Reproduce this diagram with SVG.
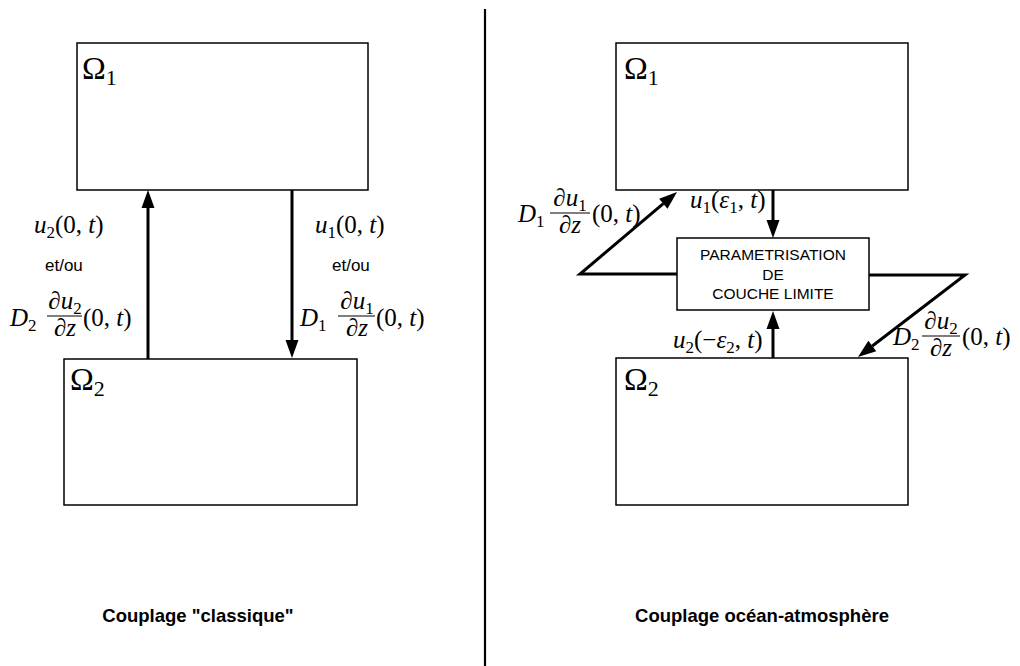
<svg xmlns="http://www.w3.org/2000/svg" width="1020" height="666" viewBox="0 0 1020 666">
<style>
.box{fill:#fff;stroke:#000;stroke-width:1.5}
.ln{fill:none;stroke:#000;stroke-width:3}
.bar{stroke:#000;stroke-width:1.2}
.m{font-family:"Liberation Serif","DejaVu Serif",serif;font-size:25px;fill:#000}
.i{font-style:italic}
.s{font-size:17px}
.om{font-family:"Liberation Serif","DejaVu Serif",serif;font-size:32px;fill:#000}
.oms{font-size:22px}
.t{font-family:"Liberation Sans",Arial,sans-serif;font-size:17px;fill:#000}
.p{font-family:"Liberation Sans",Arial,sans-serif;font-size:15.5px;fill:#000;text-anchor:middle}
.cap{font-family:"Liberation Sans",Arial,sans-serif;font-size:18.5px;font-weight:bold;fill:#000;text-anchor:middle}
.c{text-anchor:middle}
</style>
<defs>
<marker id="ah" markerUnits="userSpaceOnUse" markerWidth="18" markerHeight="13" refX="0" refY="6.5" orient="auto" overflow="visible">
<path d="M0,0 L18,6.5 L0,13 z" fill="#000"/>
</marker>
</defs>
<rect width="1020" height="666" fill="#fff"/>
<line x1="485" y1="9" x2="485" y2="666" stroke="#000" stroke-width="2.2"/>

<g id="left-omega1"><rect class="box" x="77" y="43" width="291" height="147"/><text class="om" x="82" y="79">Ω<tspan class="oms" dy="6">1</tspan></text></g>
<g id="left-omega2"><rect class="box" x="64" y="359" width="293" height="146"/><text class="om" x="70" y="390">Ω<tspan class="oms" dy="6">2</tspan></text></g>
<g id="right-omega1"><rect class="box" x="616" y="43" width="292" height="147"/><text class="om" x="624" y="79">Ω<tspan class="oms" dy="6">1</tspan></text></g>
<g id="right-omega2"><rect class="box" x="616" y="358" width="292" height="147"/><text class="om" x="624" y="390">Ω<tspan class="oms" dy="6">2</tspan></text></g>
<g id="param"><rect class="box" x="677" y="238" width="192" height="72"/>
<text class="p" x="773" y="260">PARAMETRISATION</text>
<text class="p" x="773" y="280">DE</text>
<text class="p" x="773" y="299">COUCHE LIMITE</text></g>

<g id="connectors">
<path class="ln" d="M148,359 L148,208" marker-end="url(#ah)"/>
<path class="ln" d="M292,190 L292,340" marker-end="url(#ah)"/>
<path class="ln" d="M773,190 L773,220" marker-end="url(#ah)"/>
<path class="ln" d="M773,358 L773,329" marker-end="url(#ah)"/>
<path class="ln" d="M677,274 L580,274 L663.3,203.7" marker-end="url(#ah)"/>
<path class="ln" d="M869,275 L965,275 L872.3,346" marker-end="url(#ah)"/>
</g>

<g id="labels">
<text class="m" x="34" y="233"><tspan class="i">u</tspan><tspan class="s" dy="5">2</tspan><tspan dy="-5">(0,&#160;</tspan><tspan class="i">t</tspan>)</text>
<text class="t" x="45" y="271">et/ou</text>
<text class="m" x="10" y="326"><tspan class="i">D</tspan><tspan class="s" dy="5">2</tspan></text>
<text class="m c" x="65" y="309">∂<tspan class="i">u</tspan><tspan class="s" dy="5">2</tspan></text>
<line class="bar" x1="47" y1="316" x2="82" y2="316"/>
<text class="m c" x="65" y="336">∂<tspan class="i">z</tspan></text>
<text class="m" x="83" y="326">(0,&#160;<tspan class="i">t</tspan>)</text>

<text class="m" x="315" y="233"><tspan class="i">u</tspan><tspan class="s" dy="5">1</tspan><tspan dy="-5">(0,&#160;</tspan><tspan class="i">t</tspan>)</text>
<text class="t" x="332" y="271">et/ou</text>
<text class="m" x="300" y="326"><tspan class="i">D</tspan><tspan class="s" dy="5">1</tspan></text>
<text class="m c" x="357" y="309">∂<tspan class="i">u</tspan><tspan class="s" dy="5">1</tspan></text>
<line class="bar" x1="338" y1="316" x2="375" y2="316"/>
<text class="m c" x="357" y="336">∂<tspan class="i">z</tspan></text>
<text class="m" x="376" y="326">(0,&#160;<tspan class="i">t</tspan>)</text>

<text class="m" x="518" y="222"><tspan class="i">D</tspan><tspan class="s" dy="5">1</tspan></text>
<text class="m c" x="570" y="206">∂<tspan class="i">u</tspan><tspan class="s" dy="5">1</tspan></text>
<line class="bar" x1="550" y1="213" x2="590" y2="213"/>
<text class="m c" x="570" y="233">∂<tspan class="i">z</tspan></text>
<text class="m" x="592" y="222">(0,&#160;<tspan class="i">t</tspan>)</text>

<text class="m" x="690" y="208"><tspan class="i">u</tspan><tspan class="s" dy="5">1</tspan><tspan dy="-5">(</tspan><tspan class="i">ε</tspan><tspan class="s" dy="5">1</tspan><tspan dy="-5">,&#160;</tspan><tspan class="i">t</tspan>)</text>
<text class="m" x="673" y="348"><tspan class="i">u</tspan><tspan class="s" dy="5">2</tspan><tspan dy="-5">(−</tspan><tspan class="i">ε</tspan><tspan class="s" dy="5">2</tspan><tspan dy="-5">,&#160;</tspan><tspan class="i">t</tspan>)</text>

<text class="m" x="893" y="345"><tspan class="i">D</tspan><tspan class="s" dy="5">2</tspan></text>
<text class="m c" x="941" y="329">∂<tspan class="i">u</tspan><tspan class="s" dy="5">2</tspan></text>
<line class="bar" x1="922" y1="336" x2="960" y2="336"/>
<text class="m c" x="941" y="356">∂<tspan class="i">z</tspan></text>
<text class="m" x="962" y="345">(0,&#160;<tspan class="i">t</tspan>)</text>

<text class="cap" x="198" y="622">Couplage "classique"</text>
<text class="cap" x="762" y="622">Couplage océan-atmosphère</text>
</g>
</svg>
